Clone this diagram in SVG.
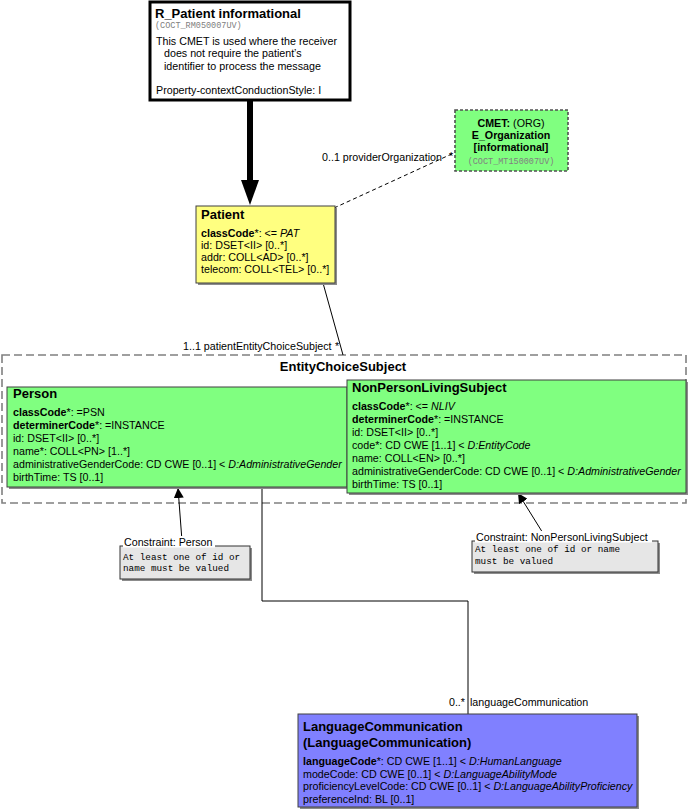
<svg xmlns="http://www.w3.org/2000/svg" width="688" height="811" viewBox="0 0 688 811">
<defs>
<style>
.t{font-family:"Liberation Sans",Arial,sans-serif;font-size:10.7px;fill:#000}
.b{font-weight:bold}
.i{font-style:italic}
.h{font-family:"Liberation Sans",Arial,sans-serif;font-size:13px;font-weight:bold;fill:#000}
.m{font-family:"Liberation Mono","Courier New",monospace;font-size:8.5px;fill:#808080}
.cm{font-family:"Liberation Mono","Courier New",monospace;font-size:9.3px;fill:#000}
.sh{fill:#8c8c8c}
.box{stroke:#404040;stroke-width:1}
.ln{stroke:#000;stroke-width:1;fill:none}
</style>
<marker id="ah" viewBox="0 0 10 10" refX="10" refY="5" markerWidth="10" markerHeight="10" markerUnits="userSpaceOnUse" orient="auto">
<path d="M0,0 L10,5 L0,10 z" fill="#000"/>
</marker>
</defs>
<rect width="688" height="811" fill="#fff"/>

<g id="EntityChoiceSubject">
<rect x="2" y="355" width="684" height="148" fill="none" stroke="#808080" stroke-width="1.6" stroke-dasharray="8,4"/>
<text class="h" x="343" y="371" text-anchor="middle">EntityChoiceSubject</text>
</g>

<g id="connectors">
<line x1="250" y1="100" x2="250" y2="182" stroke="#000" stroke-width="6"/>
<polygon points="241,180 259,180 250,205" fill="#000"/>
<line x1="334" y1="208" x2="456" y2="152" stroke="#000" stroke-width="1" stroke-dasharray="4,3"/>
<text class="t" x="322" y="161">0..1 providerOrganization</text>
<text class="t" x="449" y="160">*</text>
<line class="ln" x1="323" y1="283" x2="343" y2="355"/>
<text class="t" x="183" y="350">1..1 patientEntityChoiceSubject</text>
<text class="t" x="335" y="350">*</text>
<polyline class="ln" points="262,487 262,601 468,601 468,714"/>
<text class="t" x="465" y="706" text-anchor="end">0..*</text>
<text class="t" x="470" y="706">languageCommunication</text>
<line class="ln" x1="182" y1="541" x2="178" y2="488" marker-end="url(#ah)"/>
<line class="ln" x1="546" y1="538" x2="518" y2="493" marker-end="url(#ah)"/>
</g>

<g id="R_Patient">
<rect x="150" y="2" width="200" height="98" fill="#fff" stroke="#000" stroke-width="3"/>
<text class="h" x="155" y="18">R_Patient informational</text>
<text class="m" x="155" y="28">(COCT_RM050007UV)</text>
<text class="t" x="156" y="45">This CMET is used where the receiver</text>
<text class="t" x="164" y="57">does not require the patient’s</text>
<text class="t" x="164" y="70">identifier to process the message</text>
<text class="t" x="156" y="94">Property-contextConductionStyle: I</text>
</g>

<g id="CMET">
<rect x="455" y="110" width="113" height="61" fill="#80ff80" stroke="#505050" stroke-width="1.6" stroke-dasharray="3,2"/>
<text class="t" x="511" y="127" text-anchor="middle"><tspan class="b">CMET:</tspan> (ORG)</text>
<text class="t b" x="511" y="139" text-anchor="middle">E_Organization</text>
<text class="t b" x="511" y="151" text-anchor="middle">[informational]</text>
<text class="m" x="511" y="164" text-anchor="middle">(COCT_MT150007UV)</text>
</g>

<g id="Patient">
<rect class="sh" x="198" y="208" width="139" height="77"/>
<rect class="box" x="196" y="206" width="139" height="77" fill="#ffff80"/>
<text class="h" x="201" y="219">Patient</text>
<text class="t" x="201" y="237"><tspan class="b">classCode</tspan>*: &lt;= <tspan class="i">PAT</tspan></text>
<text class="t" x="201" y="249">id: DSET&lt;II&gt; [0..*]</text>
<text class="t" x="201" y="261">addr: COLL&lt;AD&gt; [0..*]</text>
<text class="t" x="201" y="273">telecom: COLL&lt;TEL&gt; [0..*]</text>
</g>

<g id="Person">
<rect class="sh" x="9" y="389" width="340" height="100"/>
<rect class="box" x="7" y="387" width="340" height="100" fill="#80ff80"/>
<text class="h" x="13" y="398">Person</text>
<text class="t" x="13" y="416"><tspan class="b">classCode</tspan>*: =PSN</text>
<text class="t" x="13" y="429"><tspan class="b">determinerCode</tspan>*: =INSTANCE</text>
<text class="t" x="13" y="442">id: DSET&lt;II&gt; [0..*]</text>
<text class="t" x="13" y="455">name*: COLL&lt;PN&gt; [1..*]</text>
<text class="t" x="13" y="468">administrativeGenderCode: CD CWE [0..1] &lt; <tspan class="i">D:AdministrativeGender</tspan></text>
<text class="t" x="13" y="481">birthTime: TS [0..1]</text>
</g>

<g id="NonPersonLivingSubject">
<rect class="sh" x="349" y="382" width="339" height="113"/>
<rect class="box" x="347" y="380" width="339" height="113" fill="#80ff80"/>
<text class="h" x="352" y="392">NonPersonLivingSubject</text>
<text class="t" x="352" y="410"><tspan class="b">classCode</tspan>*: &lt;= <tspan class="i">NLIV</tspan></text>
<text class="t" x="352" y="423"><tspan class="b">determinerCode</tspan>*: =INSTANCE</text>
<text class="t" x="352" y="436">id: DSET&lt;II&gt; [0..*]</text>
<text class="t" x="352" y="449">code*: CD CWE [1..1] &lt; <tspan class="i">D:EntityCode</tspan></text>
<text class="t" x="352" y="462">name: COLL&lt;EN&gt; [0..*]</text>
<text class="t" x="352" y="475">administrativeGenderCode: CD CWE [0..1] &lt; <tspan class="i">D:AdministrativeGender</tspan></text>
<text class="t" x="352" y="488">birthTime: TS [0..1]</text>
</g>

<g id="ConstraintPerson">
<rect class="sh" x="122" y="548" width="130" height="33"/>
<rect x="120" y="546" width="130" height="33" fill="#e6e6e6" stroke="#333" stroke-width="1"/>
<rect x="123" y="536" width="92" height="11.5" fill="#fff"/>
<text class="t" x="124" y="546">Constraint: Person</text>
<text class="cm" x="123" y="560">At least one of id or</text>
<text class="cm" x="123" y="571">name must be valued</text>
</g>

<g id="ConstraintNonPersonLivingSubject">
<rect class="sh" x="474" y="543" width="186" height="31"/>
<rect x="472" y="541" width="186" height="31" fill="#e6e6e6" stroke="#333" stroke-width="1"/>
<rect x="475" y="531" width="177" height="11.5" fill="#fff"/>
<text class="t" x="476" y="541">Constraint: NonPersonLivingSubject</text>
<text class="cm" x="475" y="552">At least one of id or name</text>
<text class="cm" x="475" y="564">must be valued</text>
</g>

<g id="LanguageCommunication">
<rect class="sh" x="300" y="716" width="339" height="93"/>
<rect class="box" x="298" y="714" width="339" height="93" fill="#8080ff"/>
<text class="h" x="303" y="731">LanguageCommunication</text>
<text class="h" x="303" y="747">(LanguageCommunication)</text>
<text class="t" x="303" y="765"><tspan class="b">languageCode</tspan>*: CD CWE [1..1] &lt; <tspan class="i">D:HumanLanguage</tspan></text>
<text class="t" x="303" y="777.5">modeCode: CD CWE [0..1] &lt; <tspan class="i">D:LanguageAbilityMode</tspan></text>
<text class="t" x="303" y="790">proficiencyLevelCode: CD CWE [0..1] &lt; <tspan class="i">D:LanguageAbilityProficiency</tspan></text>
<text class="t" x="303" y="802.5">preferenceInd: BL [0..1]</text>
</g>
</svg>
